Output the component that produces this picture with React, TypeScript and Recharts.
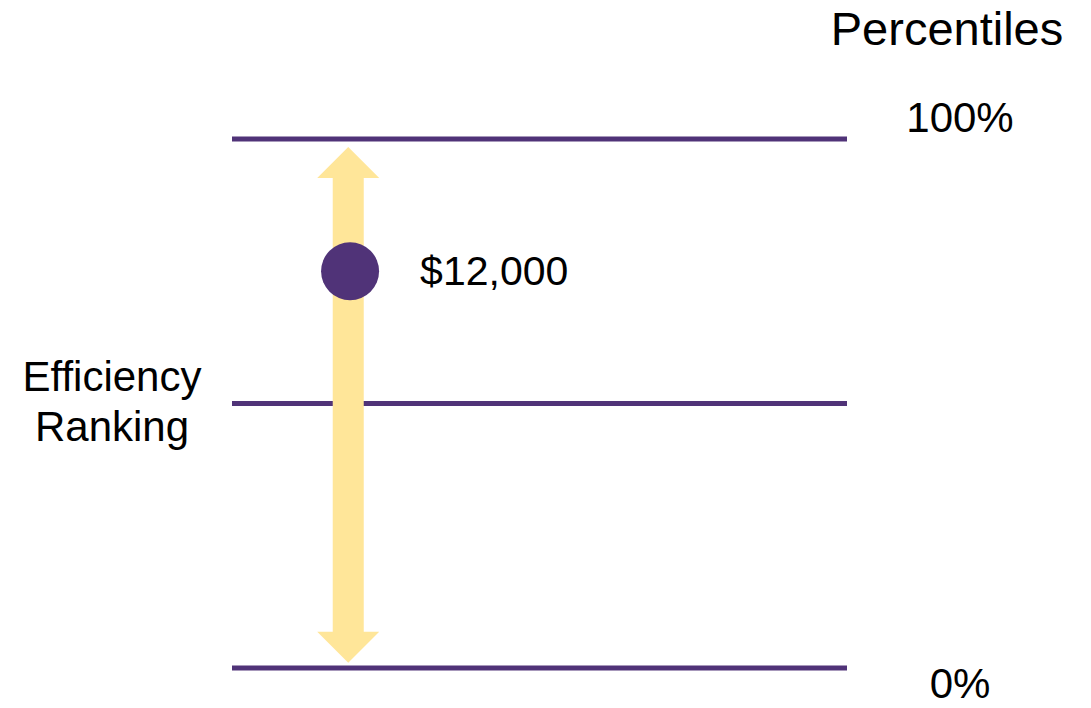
import React from 'react';
import { ComposedChart, XAxis, YAxis, Scatter, ReferenceLine } from 'recharts';

const levelValues = [0, 50, 100];
const percentileLabels: Record<number, string> = { 0: '0%', 100: '100%' };
const pointX = [19.2];
const pointY = [75];
const pointLabels = ['$12,000'];
const arrowX = 18.9;
const arrowRange = [1, 98.5];
const axisTitle = ['Efficiency', 'Ranking'];
const rightTitle = 'Percentiles';

const points = pointX.map((x, i) => ({ x, y: pointY[i], label: pointLabels[i] }));

const PURPLE = '#503378';
const YELLOW = '#FFE699';
const FONT = '"Liberation Sans", Arial, sans-serif';

const ArrowShape = (props: any) => {
  const { x1, y1, x2, y2 } = props;
  const cx = (x1 + x2) / 2;
  const top = Math.min(y1, y2);
  const bot = Math.max(y1, y2);
  const hw = 15.5;
  const hh = 31;
  const head = 31;
  const d = `M${cx},${top} L${cx + hh},${top + head} L${cx + hw},${top + head} L${cx + hw},${bot - head} L${cx + hh},${bot - head} L${cx},${bot} L${cx - hh},${bot - head} L${cx - hw},${bot - head} L${cx - hw},${top + head} L${cx - hh},${top + head} Z`;
  return <path d={d} fill={YELLOW} />;
};

const DotShape = (props: any) => {
  const { cx, cy, payload } = props;
  return (
    <g>
      <circle cx={cx} cy={cy} r={29} fill={PURPLE} />
      <text x={cx + 70} y={cy + 14} fontSize={41} fontFamily={FONT} fill="#000">
        {payload.label}
      </text>
    </g>
  );
};

const LeftTitle = (props: any) => {
  const { viewBox } = props;
  const cx = viewBox.x + viewBox.width / 2 - 4;
  const cy = viewBox.y + viewBox.height / 2;
  return (
    <g>
      <text x={cx} y={cy - 13} textAnchor="middle" fontSize={42} fontFamily={FONT} fill="#000">
        {axisTitle[0]}
      </text>
      <text x={cx} y={cy + 37} textAnchor="middle" fontSize={42} fontFamily={FONT} fill="#000">
        {axisTitle[1]}
      </text>
    </g>
  );
};

const RightTitle = (props: any) => {
  const { viewBox } = props;
  return (
    <text x={viewBox.x + 100} y={viewBox.y - 94} textAnchor="middle" fontSize={47} fontFamily={FONT} fill="#000">
      {rightTitle}
    </text>
  );
};

const makePercentLabel = (value: number) => (props: any) => {
  const { viewBox } = props;
  if (!viewBox) return null;
  const x = viewBox.x + viewBox.width + 113;
  const isTop = value >= 50;
  return (
    <text x={x} y={isTop ? viewBox.y - 7 : viewBox.y + 30} textAnchor="middle" fontSize={42} fontFamily={FONT} fill="#000">
      {percentileLabels[value]}
    </text>
  );
};

export default function App() {
  return (
    <div style={{ position: 'absolute', left: 0, top: 0, width: 1091, height: 708, background: '#fff' }}>
      <ComposedChart
        width={1091}
        height={708}
        data={points}
        margin={{ top: 139, right: 0, bottom: 40, left: 0 }}
      >
        <XAxis type="number" dataKey="x" domain={[0, 100]} hide />
        <YAxis
          yAxisId="left"
          type="number"
          dataKey="y"
          domain={[0, 100]}
          width={232}
          axisLine={false}
          tickLine={false}
          tick={false}
          label={{ content: <LeftTitle /> }}
        />
        <YAxis
          yAxisId="right"
          orientation="right"
          type="number"
          domain={[0, 100]}
          width={244}
          axisLine={false}
          tickLine={false}
          tick={false}
          label={{ content: <RightTitle /> }}
        />
        {levelValues.map((v) => (
          <ReferenceLine
            key={v}
            yAxisId="left"
            y={v}
            stroke={PURPLE}
            strokeWidth={5}
            label={percentileLabels[v] ? { content: makePercentLabel(v) } : undefined}
          />
        ))}
        <ReferenceLine
          yAxisId="left"
          segment={[
            { x: arrowX, y: arrowRange[1] },
            { x: arrowX, y: arrowRange[0] },
          ]}
          shape={<ArrowShape />}
        />
        <Scatter yAxisId="left" dataKey="y" shape={<DotShape />} isAnimationActive={false} />
      </ComposedChart>
    </div>
  );
}
